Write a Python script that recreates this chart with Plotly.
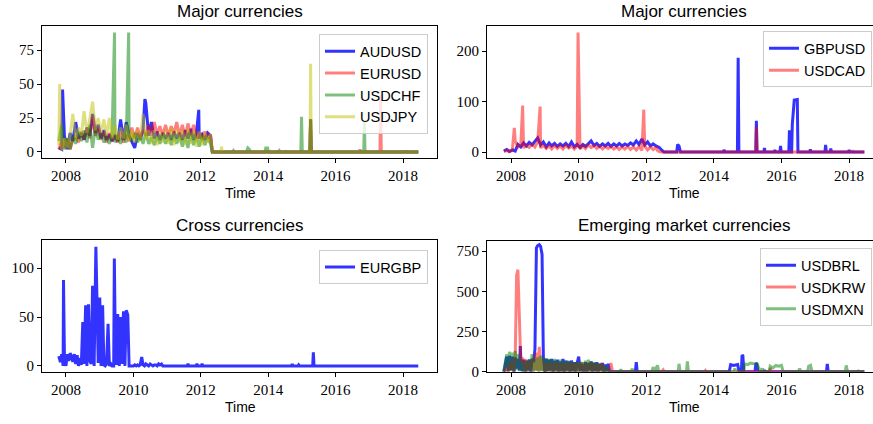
import pandas as pd
import plotly.graph_objects as go
from plotly.subplots import make_subplots

# ---------------- data ----------------
# monthly grid (mid-month) for the two "Major currencies" panels: Oct 2007 .. Apr 2012
MONTHS = pd.date_range("2007-10-01", "2012-04-01", freq="MS") + pd.Timedelta(days=14)
# half-monthly grid for the bottom panels: 2007-10-15 .. 2010-12-15
HALF = pd.date_range("2007-10-15", "2010-12-15", freq="SMS")
END = "2018-06-15"

AUDUSD_m = [3, 2, 12,
            2, 14, 8, 22, 10, 14, 9, 18, 12, 28, 14, 20,
            10, 16, 9, 13, 8, 12, 8, 24, 9, 22, 12, 8,
            3, 14, 9, 16, 36, 12, 22, 10, 15, 9, 14, 10,
            14, 9, 15, 10, 14, 9, 16, 10, 17, 9, 14, 10,
            13, 9, 14, 12]
AUDUSD_x = [("2007-11-25", 46), ("2010-05-05", 39), ("2011-12-10", 31),
            ("2012-05-05", 0), ("2015-03-29", 0), ("2015-04-05", 24), ("2015-04-12", 0), (END, 0)]

EURUSD_m = [2, 8, 3,
            10, 2, 9, 12, 7, 15, 9, 17, 10, 26, 12, 18,
            9, 15, 7, 14, 8, 13, 7, 14, 7, 13, 8, 18,
            10, 18, 11, 16, 12, 20, 12, 22, 13, 19, 12, 20,
            12, 19, 13, 22, 12, 20, 11, 21, 12, 20, 10, 14,
            9, 15, 10, 13]
EURUSD_x = [("2012-05-05", 0), ("2015-03-29", 0), ("2015-04-05", 24), ("2015-04-12", 0),
            ("2016-09-15", 0), ("2016-09-22", 2), ("2016-09-29", 0),
            ("2017-04-26", 0), ("2017-05-03", 42), ("2017-05-10", 0), (END, 0)]

USDCHF_m = [8, 20, 2,
            10, 2, 12, 6, 15, 8, 16, 7, 20, 3, 18, 9,
            14, 7, 12, 6, 14, 7, 12, 6, 13, 7, 12, 8,
            14, 7, 12, 6, 14, 6, 11, 5, 12, 6, 13, 6,
            12, 5, 13, 6, 12, 4, 12, 3, 14, 5, 12, 4,
            12, 5, 11, 6]
USDCHF_x = [("2009-06-10", 88), ("2009-11-10", 88),
            ("2012-05-05", 0), ("2012-12-10", 0), ("2012-12-20", 1), ("2013-01-01", 0),
            ("2013-05-10", 0), ("2013-05-25", 3), ("2013-06-10", 2), ("2013-06-20", 0),
            ("2013-11-25", 0), ("2013-12-05", 3), ("2013-12-25", 3), ("2014-01-05", 0),
            ("2014-04-20", 0), ("2014-05-01", 1), ("2014-05-10", 0),
            ("2014-07-01", 0), ("2014-07-08", 1), ("2014-07-15", 0),
            ("2014-12-20", 0), ("2014-12-28", 26), ("2015-01-05", 0),
            ("2015-03-29", 0), ("2015-04-05", 24), ("2015-04-12", 0),
            ("2016-11-01", 0), ("2016-11-08", 22), ("2016-11-15", 0),
            ("2018-01-25", 0), ("2018-02-01", 1), ("2018-02-08", 0), (END, 0)]

USDJPY_m = [5, 1, 10,
            3, 12, 28, 10, 18, 12, 30, 14, 24, 37, 16, 25,
            14, 24, 12, 25, 10, 20, 9, 18, 10, 20, 8, 16,
            7, 15, 8, 28, 9, 16, 6, 16, 5, 14, 7, 16,
            6, 18, 5, 17, 7, 16, 5, 17, 6, 16, 4, 15,
            5, 14, 7, 13]
USDJPY_x = [("2007-10-25", 50), ("2012-05-05", 0),
            ("2012-08-05", 0), ("2012-08-12", 4), ("2012-08-19", 0),
            ("2015-03-29", 0), ("2015-04-05", 65), ("2015-04-12", 0), (END, 0)]

GBPUSD_m = [2, 5, 1,
            4, 2, 15, 10, 18, 12, 19, 14, 22, 28, 14, 20,
            10, 18, 12, 17, 11, 16, 12, 17, 11, 20, 10, 15,
            9, 15, 11, 16, 22, 13, 17, 11, 16, 12, 17, 11,
            16, 12, 17, 12, 16, 13, 18, 14, 22, 15, 26, 14,
            20, 12, 16, 12]
GBPUSD_x = [("2012-05-20", 9), ("2012-06-20", 3), ("2012-07-10", 0),
            ("2012-11-25", 0), ("2012-12-05", 15), ("2012-12-20", 12), ("2013-01-05", 0),
            ("2014-04-10", 0), ("2014-04-20", 4), ("2014-05-01", 0),
            ("2014-09-12", 0), ("2014-09-20", 187), ("2014-09-28", 0),
            ("2015-03-29", 0), ("2015-04-05", 62), ("2015-04-12", 0),
            ("2015-06-25", 0), ("2015-07-01", 8), ("2015-07-08", 0),
            ("2015-10-15", 0), ("2015-10-22", 4), ("2015-10-29", 0),
            ("2015-12-15", 0), ("2015-12-22", 12), ("2015-12-29", 0),
            ("2016-03-20", 0), ("2016-03-27", 43), ("2016-04-03", 0),
            ("2016-04-20", 0), ("2016-04-27", 55), ("2016-05-18", 103), ("2016-06-20", 104), ("2016-06-27", 0),
            ("2016-11-01", 0), ("2016-11-08", 5), ("2016-11-15", 0),
            ("2017-04-15", 0), ("2017-04-22", 14), ("2017-04-29", 0),
            ("2017-06-10", 0), ("2017-06-17", 7), ("2017-06-24", 0),
            ("2017-12-25", 0), ("2018-01-01", 4), ("2018-01-08", 0), (END, 0)]

USDCAD_m = [1, 3, 1,
            4, 22, 10, 14, 8, 13, 9, 16, 10, 20, 8, 13,
            7, 12, 6, 13, 7, 12, 6, 13, 8, 12, 6, 12,
            6, 12, 7, 14, 9, 13, 7, 12, 6, 11, 7, 11,
            6, 10, 5, 10, 6, 11, 5, 10, 4, 11, 3, 12,
            4, 10, 5, 9]
USDCAD_x = [("2008-02-05", 48), ("2008-05-05", 92), ("2008-11-10", 90), ("2009-12-25", 237),
            ("2011-12-05", 84), ("2012-05-05", 2), ("2012-06-10", 0),
            ("2015-03-29", 0), ("2015-04-05", 50), ("2015-04-12", 0),
            ("2018-02-01", 0), ("2018-02-10", 3), ("2018-02-18", 0), (END, 0)]

EURGBP_h = [10,
            4, 12, 0, 10,
            0, 12, 5, 13, 10, 4, 12, 2, 11, 0, 8, 1,
            45, 2, 62, 0, 63, 5, 2, 82, 0, 83, 72, 3,
            70, 0, 62, 1, 0, 2, 43, 0, 2, 0, 0, 53,
            1, 53, 0, 50, 2, 56, 0, 57, 52, 0, 0, 0,
            0, 1, 0, 1, 0, 1, 9, 1, 0, 2, 1, 0,
            2, 1, 0, 1, 1, 0, 2, 1, 2, 0, 0, 0]
EURGBP_x = [("2007-12-05", 88), ("2008-11-20", 122), ("2009-06-08", 110),
            ("2011-08-05", 0), ("2011-08-15", 2), ("2011-08-25", 0),
            ("2011-11-10", 0), ("2011-11-20", 2), ("2011-12-01", 0),
            ("2012-01-05", 0), ("2012-01-15", 2), ("2012-01-25", 0),
            ("2014-09-10", 0), ("2014-09-18", 2), ("2014-09-26", 0),
            ("2014-11-20", 0), ("2014-11-27", 1), ("2014-12-04", 0),
            ("2015-04-28", 0), ("2015-05-05", 14), ("2015-05-12", 0), (END, 0)]

USDBRL_h = [0,
            60, 95, 5, 100,
            10, 95, 0, 90, 20, 80, 10, 85, 5, 75, 0, 70,
            10, 75, 0, 80, 60, 140, 770, 785, 790, 780, 730, 90,
            0, 80, 5, 75, 10, 80, 0, 70, 10, 75, 0, 65,
            5, 80, 0, 70, 10, 65, 0, 70, 5, 60, 0, 55,
            95, 5, 50, 0, 10, 60, 0, 55, 10, 65, 0, 55,
            5, 60, 0, 50, 10, 55, 0, 45, 5, 50, 0, 0]
USDBRL_x = [("2008-04-10", 160),
            ("2011-09-05", 0), ("2011-09-15", 60), ("2011-09-25", 0),
            ("2014-06-15", 0), ("2014-07-01", 45), ("2014-08-01", 40), ("2014-09-15", 45), ("2014-10-01", 0),
            ("2014-10-25", 0), ("2014-11-01", 105), ("2014-11-10", 100), ("2014-11-20", 0),
            ("2015-03-20", 0), ("2015-04-01", 55), ("2015-04-10", 50), ("2015-04-20", 0),
            ("2015-06-25", 0), ("2015-07-01", 10), ("2015-07-10", 0),
            ("2017-05-01", 0), ("2017-05-10", 50), ("2017-05-20", 0), (END, 0)]

USDKRW_h = [0,
            5, 30, 0, 60,
            10, 70, 5, 90, 600, 635, 250, 60, 90, 10, 80, 5,
            70, 10, 60, 5, 90, 10, 120, 5, 155, 10, 80, 5,
            60, 0, 50, 5, 60, 0, 50, 5, 60, 0, 50, 5,
            55, 0, 50, 5, 60, 0, 55, 5, 50, 0, 60, 5,
            55, 0, 60, 5, 55, 0, 50, 5, 60, 0, 55, 5,
            50, 0, 45, 5, 55, 0, 40, 5, 0, 0, 0, 55]
USDKRW_x = [("2011-01-01", 0),
            ("2012-06-15", 0), ("2012-07-01", 12), ("2012-07-15", 0),
            ("2013-09-20", 0), ("2013-10-01", 8), ("2013-10-10", 0),
            ("2015-08-20", 0), ("2015-09-01", 25), ("2015-09-10", 0), (END, 0)]

USDMXN_h = [0,
            60, 110, 5, 125,
            10, 120, 5, 130, 10, 110, 5, 80, 0, 60, 5, 70,
            0, 80, 10, 110, 0, 80, 10, 90, 0, 100, 5, 90,
            0, 85, 5, 80, 0, 75, 5, 80, 0, 70, 5, 75,
            0, 70, 5, 65, 0, 70, 5, 60, 0, 55, 5, 60,
            0, 65, 5, 60, 0, 70, 5, 75, 0, 65, 5, 60,
            0, 55, 5, 50, 0, 45, 0, 40, 5, 10, 0, 0]
USDMXN_x = [("2011-03-20", 0), ("2011-04-01", 15), ("2011-04-15", 0),
            ("2011-07-20", 0), ("2011-08-01", 20), ("2011-08-15", 0),
            ("2012-03-01", 0), ("2012-03-15", 30), ("2012-04-01", 0), ("2012-05-01", 40), ("2012-05-15", 0),
            ("2012-12-10", 0), ("2012-12-20", 50), ("2013-01-01", 0),
            ("2013-03-10", 0), ("2013-03-20", 65), ("2013-04-01", 0),
            ("2014-08-01", 0), ("2014-08-15", 20), ("2014-09-01", 0),
            ("2014-11-15", 0), ("2014-12-01", 50), ("2015-01-01", 45), ("2015-02-01", 55),
            ("2015-03-01", 50), ("2015-04-15", 45), ("2015-05-20", 0),
            ("2015-06-10", 20), ("2015-06-25", 0),
            ("2015-08-25", 0), ("2015-09-01", 35), ("2015-10-01", 25), ("2015-11-01", 40),
            ("2015-12-01", 35), ("2016-01-01", 40), ("2016-01-20", 0),
            ("2016-07-01", 0), ("2016-07-15", 20), ("2016-08-01", 0),
            ("2016-10-10", 0), ("2016-10-20", 35), ("2016-11-10", 40), ("2016-11-25", 0),
            ("2017-11-20", 0), ("2017-12-01", 40), ("2017-12-15", 0),
            ("2018-04-01", 0), ("2018-04-10", 5), ("2018-04-20", 0), (END, 0)]

YEAR_TICKS = ["2008", "2010", "2012", "2014", "2016", "2018"]
TITLES = ["Major currencies", "Major currencies", "Cross currencies", "Emerging market currencies"]

# ---------------- styles ----------------
BLUE = "rgba(0,0,255,0.8)"
RED = "rgba(255,0,0,0.5)"
GREEN = "rgba(0,128,0,0.5)"
YELLOW = "rgba(191,191,0,0.5)"
LW = 3


def build(grid, vals, extra):
    pts = list(zip(grid, vals)) + [(pd.Timestamp(d), v) for d, v in extra]
    pts.sort(key=lambda p: p[0])
    return [p[0] for p in pts], [p[1] for p in pts]


fig = make_subplots(rows=2, cols=2)

panels = [
    (1, 1, "legend", MONTHS, [("AUDUSD", AUDUSD_m, AUDUSD_x, BLUE), ("EURUSD", EURUSD_m, EURUSD_x, RED),
                              ("USDCHF", USDCHF_m, USDCHF_x, GREEN), ("USDJPY", USDJPY_m, USDJPY_x, YELLOW)]),
    (1, 2, "legend2", MONTHS, [("GBPUSD", GBPUSD_m, GBPUSD_x, BLUE), ("USDCAD", USDCAD_m, USDCAD_x, RED)]),
    (2, 1, "legend3", HALF, [("EURGBP", EURGBP_h, EURGBP_x, BLUE)]),
    (2, 2, "legend4", HALF, [("USDBRL", USDBRL_h, USDBRL_x, BLUE), ("USDKRW", USDKRW_h, USDKRW_x, RED),
                             ("USDMXN", USDMXN_h, USDMXN_x, GREEN)]),
]
for r, c, lg, grid, series in panels:
    for name, vals, extra, col in series:
        xs, ys = build(grid, vals, extra)
        fig.add_trace(go.Scatter(x=xs, y=ys, mode="lines", name=name, legend=lg,
                                 line=dict(color=col, width=LW)), row=r, col=c)

W, H = 873, 424
def px(x): return x / W
def py(y): return 1 - y / H

tickfont = dict(family="Liberation Serif", size=15, color="black")
axis_common = dict(showgrid=False, zeroline=False, showline=True, linecolor="black", linewidth=1,
                   ticks="outside", ticklen=4, tickwidth=1, tickcolor="black", tickfont=tickfont)

xdoms = [(px(42), px(437)), (px(487), 1.0), (px(42), px(437)), (px(487), 1.0)]
ydoms = [(py(161), py(27)), (py(161), py(27)), (py(379), py(245)), (py(379), py(246))]
xranges = [("2007-04-16", "2019-01-04"), ("2007-04-16", "2018-09-16"),
           ("2007-04-16", "2019-01-04"), ("2007-04-16", "2018-09-16")]
yranges = [(-4.4, 92.4), (-11.8, 249), (-6.1, 128.5), (0, 811)]
yticks = [[0, 25, 50, 75], [0, 100, 200], [0, 50, 100], [0, 250, 500, 750]]

for i in range(4):
    sx = "xaxis" if i == 0 else f"xaxis{i+1}"
    sy = "yaxis" if i == 0 else f"yaxis{i+1}"
    fig.layout[sx].update(domain=list(xdoms[i]), range=list(xranges[i]), mirror=True,
                          tickvals=[f"{t}-01-01" for t in YEAR_TICKS], ticktext=YEAR_TICKS, **axis_common)
    fig.layout[sy].update(domain=list(ydoms[i]), range=list(yranges[i]), mirror=(i % 2 == 0),
                          tickvals=yticks[i], ticktext=[str(v) for v in yticks[i]], **axis_common)

legend_common = dict(bgcolor="rgba(255,255,255,0.8)", bordercolor="#cccccc", borderwidth=1,
                     font=dict(family="Liberation Sans", size=14.5, color="black"),
                     xanchor="right", yanchor="top", itemwidth=30)
fig.update_layout(
    legend=dict(x=px(428), y=py(35), **legend_common),
    legend2=dict(x=px(872), y=py(32), **legend_common),
    legend3=dict(x=px(428), y=py(255), **legend_common),
    legend4=dict(x=px(872), y=py(253), **legend_common),
)

anns = []
title_pos = [(240, 12), (684, 12), (240, 230), (684, 230)]
for t, (x, y) in zip(TITLES, title_pos):
    anns.append(dict(text=t, x=px(x), y=py(y), xref="paper", yref="paper", showarrow=False,
                     xanchor="center", yanchor="middle",
                     font=dict(family="Liberation Sans", size=17, color="black")))
for x, y in [(240, 197), (684, 197), (240, 415), (684, 415)]:
    anns.append(dict(text="Time", x=px(x), y=py(y), xref="paper", yref="paper", showarrow=False,
                     xanchor="center", yanchor="middle",
                     font=dict(family="Liberation Sans", size=14, color="black")))

fig.update_layout(width=W, height=H, margin=dict(l=0, r=0, t=0, b=0),
                  paper_bgcolor="white", plot_bgcolor="white", annotations=anns, showlegend=True)

fig.write_html("out.html", config={"displayModeBar": False},
               post_script="document.body.style.margin='0';document.body.style.overflow='hidden';")
